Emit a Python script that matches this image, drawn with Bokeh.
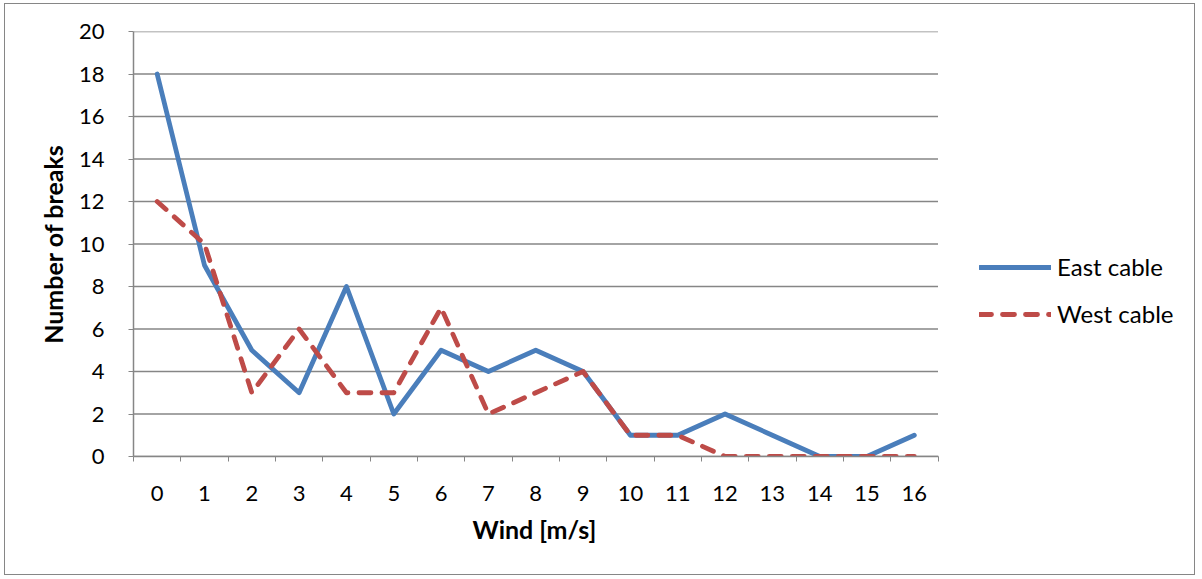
from bokeh.plotting import figure
from bokeh.models import Range1d, FixedTicker, Legend, LegendItem, Title
from bokeh.embed import file_html
from bokeh.resources import INLINE

wind = list(range(17))
east = [18, 9, 5, 3, 8, 2, 5, 4, 5, 4, 1, 1, 2, 1, 0, 0, 1]
west = [12, 10, 3, 6, 3, 3, 7, 2, 3, 4, 1, 1, 0, 0, 0, 0, 0]
y_ticks = list(range(0, 21, 2))

FONT = "Lato"
GRAY = "#868686"

W, H = 1191, 572
ML, MR, MT, MB = 128, 2, 27, 120
frame_w = W - ML - MR
plot_w = 804.5  # pixel width of the category area
x_lo, x_hi = wind[0] - 0.5, wind[-1] + 0.5
x_end = x_lo + (x_hi - x_lo) * frame_w / plot_w

p = figure(width=W, height=H, output_backend="svg", toolbar_location=None,
           x_range=Range1d(x_lo, x_end), y_range=Range1d(0, 20),
           min_border_left=ML, min_border_right=MR, min_border_top=MT,
           min_border_bottom=MB)
p.outline_line_color = None
p.background_fill_color = "white"
p.border_fill_color = "white"
p.styles = {"border": "1.5px solid #868686", "margin-left": "4px", "margin-top": "3px"}

# axes
p.xaxis.ticker = FixedTicker(ticks=wind, minor_ticks=[i - 0.5 for i in range(18)])
p.xaxis.bounds = (x_lo, x_hi)
p.xaxis.major_tick_out = 0
p.xaxis.major_tick_in = 0
p.xaxis.minor_tick_out = 5
p.xaxis.minor_tick_in = 0
p.xaxis.minor_tick_line_color = GRAY
p.xaxis.axis_line_color = GRAY
p.xaxis.axis_line_width = 1.5
p.xaxis.major_label_standoff = 24

p.yaxis.ticker = FixedTicker(ticks=y_ticks, minor_ticks=[])
p.yaxis.major_tick_out = 5
p.yaxis.major_tick_in = 0
p.yaxis.major_tick_line_color = GRAY
p.yaxis.axis_line_color = GRAY
p.yaxis.axis_line_width = 1.5
p.yaxis.major_label_standoff = 24
p.yaxis.axis_label = "Number of breaks"
p.yaxis.axis_label_standoff = 8

for ax in (p.xaxis[0], p.yaxis[0]):
    ax.major_label_text_font = FONT
    ax.major_label_text_font_size = "22px"
    ax.major_label_text_color = "black"
    ax.axis_label_text_font = FONT
    ax.axis_label_text_font_size = "25px"
    ax.axis_label_text_font_style = "bold"
    ax.axis_label_text_color = "black"

# x-axis title, centred under the category area
xtitle = Title(text="Wind [m/s]", align="left", offset=339,
               text_font=FONT, text_font_size="25px", text_font_style="bold",
               text_color="black", standoff=16)
p.add_layout(xtitle, "below")

p.xgrid.grid_line_color = None
p.ygrid.grid_line_color = None
# horizontal gridlines limited to the category area
p.segment(x0=x_lo, x1=x_hi, y0=y_ticks, y1=y_ticks, line_color=GRAY, line_width=1.5)

r_east = p.line(wind, east, line_color="#4A7EBB", line_width=4.8, line_join="round", line_cap="round")
r_west = p.line(wind, west, line_color="#BE4B48", line_width=4.8, line_dash="12 11",
                line_join="round", line_cap="round")

legend = Legend(items=[LegendItem(label="East cable", renderers=[r_east]),
                       LegendItem(label="West cable", renderers=[r_west])],
                location=(846, 128), orientation="vertical")
legend.padding = 0
legend.margin = 0
legend.border_line_color = None
legend.background_fill_alpha = 0
legend.glyph_width = 72
legend.glyph_height = 24
legend.label_height = 24
legend.label_standoff = 6
legend.spacing = 18
legend.label_text_font = FONT
legend.label_text_font_size = "24px"
legend.label_text_color = "black"
p.add_layout(legend, "center")

open("out.html", "w").write(file_html(p, INLINE))
